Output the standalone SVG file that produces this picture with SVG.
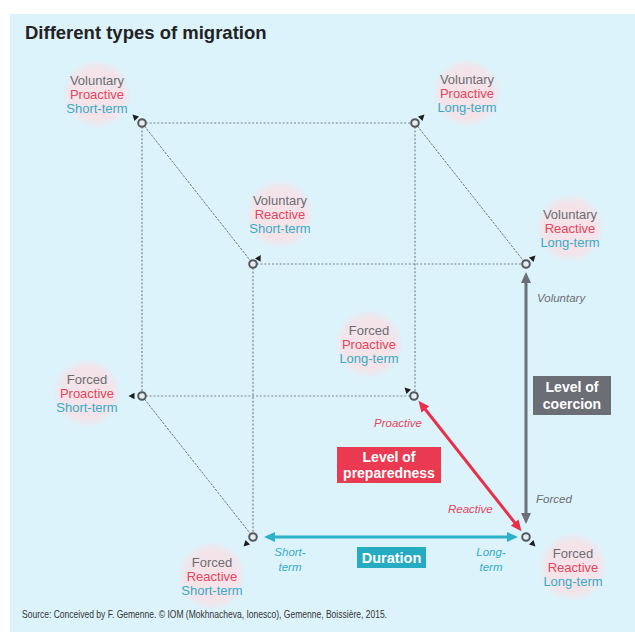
<svg xmlns="http://www.w3.org/2000/svg" width="635" height="632" viewBox="0 0 635 632">
<style>
.edge{fill:none;stroke:#7d858c;stroke-width:1.2;stroke-dasharray:2 1.8}
.diag{fill:none;stroke:#6f767c;stroke-width:1;stroke-dasharray:2.5 1.2}
.vtx{fill:#e4eef2;stroke:#55595e;stroke-width:2}
.tri{fill:#1e1e1e}
.bub{fill:url(#bg)}
.lab{font-family:"Liberation Sans",Arial,sans-serif;font-size:13px;text-anchor:middle}
.g{fill:#6b6d72}.r{fill:#e4455d}.c{fill:#37abc6}
.ax{font-family:"Liberation Sans",Arial,sans-serif;font-size:11.5px;font-style:italic}
.box{font-family:"Liberation Sans",Arial,sans-serif;font-weight:bold;fill:#fff;text-anchor:middle}
</style>
<defs>
<radialGradient id="bg" cx="0.5" cy="0.5" r="0.5">
<stop offset="0" stop-color="#f6e3e8"/>
<stop offset="0.75" stop-color="#f3e4ea"/>
<stop offset="1" stop-color="#dff1f8"/>
</radialGradient>
<path id="t" d="M3.5,0 L-2.5,-3.2 L-2.5,3.2 Z"/>
<marker id="mg" markerUnits="userSpaceOnUse" markerWidth="12" markerHeight="10" refX="7" refY="5" orient="auto-start-reverse" viewBox="0 0 12 10"><path d="M0,0 L11,5 L0,10 Z" fill="#6b7078"/></marker>
<marker id="mr" markerUnits="userSpaceOnUse" markerWidth="12" markerHeight="10" refX="7" refY="5" orient="auto-start-reverse" viewBox="0 0 12 10"><path d="M0,0 L11,5 L0,10 Z" fill="#e8304b"/></marker>
<marker id="mc" markerUnits="userSpaceOnUse" markerWidth="12" markerHeight="10" refX="7" refY="5" orient="auto-start-reverse" viewBox="0 0 12 10"><path d="M0,0 L11,5 L0,10 Z" fill="#2db1c8"/></marker>
</defs>
<rect x="10" y="14" width="625" height="618" fill="#dcf3fb"/>
<text x="25" y="39" font-family="'Liberation Sans',Arial,sans-serif" font-weight="bold" font-size="18.5" fill="#222">Different types of migration</text>

<g id="bubbles">
<g id="n-vps"><circle class="bub" cx="97" cy="94" r="34"/><text class="lab" x="97"><tspan class="g" x="97" y="84.5">Voluntary</tspan><tspan class="r" x="97" y="98.5">Proactive</tspan><tspan class="c" x="97" y="112.5">Short-term</tspan></text></g>
<g id="n-vpl"><circle class="bub" cx="467" cy="93" r="34"/><text class="lab"><tspan class="g" x="467" y="83.5">Voluntary</tspan><tspan class="r" x="467" y="97.5">Proactive</tspan><tspan class="c" x="467" y="111.5">Long-term</tspan></text></g>
<g id="n-vrs"><circle class="bub" cx="280" cy="214" r="34"/><text class="lab"><tspan class="g" x="280" y="204.5">Voluntary</tspan><tspan class="r" x="280" y="218.5">Reactive</tspan><tspan class="c" x="280" y="232.5">Short-term</tspan></text></g>
<g id="n-vrl"><circle class="bub" cx="570" cy="228" r="34"/><text class="lab"><tspan class="g" x="570" y="218.5">Voluntary</tspan><tspan class="r" x="570" y="232.5">Reactive</tspan><tspan class="c" x="570" y="246.5">Long-term</tspan></text></g>
<g id="n-fps"><circle class="bub" cx="87" cy="393" r="34"/><text class="lab"><tspan class="g" x="87" y="383.5">Forced</tspan><tspan class="r" x="87" y="397.5">Proactive</tspan><tspan class="c" x="87" y="411.5">Short-term</tspan></text></g>
<g id="n-fpl"><circle class="bub" cx="369" cy="344" r="34"/><text class="lab"><tspan class="g" x="369" y="334.5">Forced</tspan><tspan class="r" x="369" y="348.5">Proactive</tspan><tspan class="c" x="369" y="362.5">Long-term</tspan></text></g>
<g id="n-frs"><circle class="bub" cx="212" cy="576" r="34"/><text class="lab"><tspan class="g" x="212" y="566.5">Forced</tspan><tspan class="r" x="212" y="580.5">Reactive</tspan><tspan class="c" x="212" y="594.5">Short-term</tspan></text></g>
<g id="n-frl"><circle class="bub" cx="573" cy="567" r="34"/><text class="lab"><tspan class="g" x="573" y="557.5">Forced</tspan><tspan class="r" x="573" y="571.5">Reactive</tspan><tspan class="c" x="573" y="585.5">Long-term</tspan></text></g>
</g>

<g id="connectors">
<path class="edge" d="M142,123 H415 M142,123 V396 M415,123 V396 M142,396 H414 M253,264 H526 M253,264 V537"/>
<path class="diag" d="M142,123 L253,264 M415,123 L526,264 M142,396 L253,537"/>
<line x1="526" y1="276" x2="526" y2="520" stroke="#6b7078" stroke-width="3" marker-start="url(#mg)" marker-end="url(#mg)"/>
<line x1="421" y1="404" x2="519" y2="528" stroke="#e8304b" stroke-width="3" marker-start="url(#mr)" marker-end="url(#mr)"/>
<line x1="268" y1="537" x2="514" y2="537" stroke="#2db1c8" stroke-width="3" marker-start="url(#mc)" marker-end="url(#mc)"/>
</g>

<g id="vertices">
<circle class="vtx" cx="142" cy="123" r="3.8"/>
<circle class="vtx" cx="415" cy="123" r="3.8"/>
<circle class="vtx" cx="253" cy="264" r="3.8"/>
<circle class="vtx" cx="526" cy="264" r="3.8"/>
<circle class="vtx" cx="142" cy="396" r="3.8"/>
<circle class="vtx" cx="414" cy="396" r="3.8"/>
<circle class="vtx" cx="253" cy="537" r="3.8"/>
<circle class="vtx" cx="526" cy="537" r="3.8"/>
<use href="#t" class="tri" transform="translate(135,117) rotate(-135)"/>
<use href="#t" class="tri" transform="translate(422,117) rotate(-45)"/>
<use href="#t" class="tri" transform="translate(259,258) rotate(-60)"/>
<use href="#t" class="tri" transform="translate(533,258) rotate(-45)"/>
<use href="#t" class="tri" transform="translate(132,396) rotate(180)"/>
<use href="#t" class="tri" transform="translate(407,390) rotate(-135)"/>
<use href="#t" class="tri" transform="translate(246,544) rotate(135)"/>
<use href="#t" class="tri" transform="translate(533,544) rotate(45)"/>
</g>

<g id="axis-coercion">
<text class="ax g" x="537" y="302">Voluntary</text>
<text class="ax g" x="536" y="503">Forced</text>
<rect x="533" y="376" width="78" height="39" fill="#6b6e74"/>
<text class="box" font-size="14"><tspan x="572" y="392">Level of</tspan><tspan x="572" y="409">coercion</tspan></text>
</g>
<g id="axis-preparedness">
<text class="ax r" x="374" y="427">Proactive</text>
<text class="ax r" x="448" y="513">Reactive</text>
<rect x="337" y="447" width="104" height="36" fill="#ea3a52"/>
<text class="box" font-size="14"><tspan x="389" y="462">Level of</tspan><tspan x="389" y="478">preparedness</tspan></text>
</g>
<g id="axis-duration">
<text class="ax c" text-anchor="middle"><tspan x="290" y="556">Short-</tspan><tspan x="290" y="571">term</tspan></text>
<text class="ax c" text-anchor="middle"><tspan x="491" y="556">Long-</tspan><tspan x="491" y="571">term</tspan></text>
<rect x="357" y="547" width="69" height="21" fill="#25abc2"/>
<text class="box" font-size="14.5" x="391.5" y="563">Duration</text>
</g>

<text x="22" y="618" font-family="'Liberation Sans',Arial,sans-serif" font-size="10.5" fill="#333" textLength="365" lengthAdjust="spacingAndGlyphs">Source: Conceived by F. Gemenne. © IOM (Mokhnacheva, Ionesco), Gemenne, Boissière, 2015.</text>
</svg>
